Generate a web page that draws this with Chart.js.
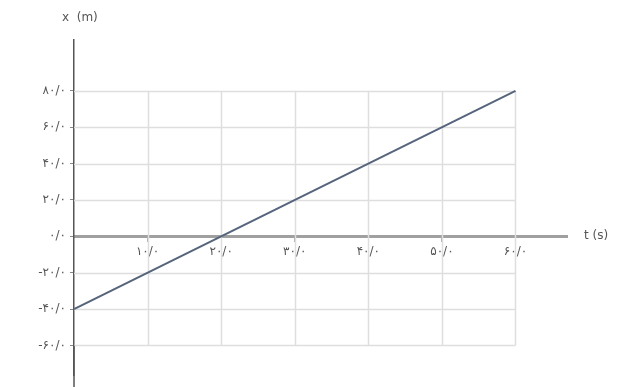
<!DOCTYPE html>
<html>
<head>
<meta charset="utf-8">
<script src="https://cdn.jsdelivr.net/npm/chart.js@4"></script>
<style>
  html, body { margin: 0; padding: 0; background: #fff; }
  #wrap { width: 618px; height: 387px; }
</style>
</head>
<body>
<div id="wrap"><canvas id="chartPos"></canvas></div>
<script>
// line endpoints (t in s, x in m)
const times = [0, 60];
const positions = [-40, 80];

const xTicks = [10, 20, 30, 40, 50, 60];
const yTicks = [80, 60, 40, 20, 0, -20, -40, -60];

const fa = n => {
  const d = '۰۱۲۳۴۵۶۷۸۹';
  const s = Math.abs(n).toString().replace(/\d/g, c => d[c]) + '/۰';
  return n < 0 ? '-' + s : s;
};

const gridBox = {
  id: 'gridBox',
  beforeDatasetsDraw(chart) {
    const { ctx, scales: { x, y } } = chart;
    ctx.save();
    ctx.strokeStyle = '#dedede';
    ctx.lineWidth = 1.5;
    const l = x.getPixelForValue(0), r = x.getPixelForValue(60);
    const t = y.getPixelForValue(80), b = y.getPixelForValue(-60);
    yTicks.forEach(v => {
      if (v === 0) return;
      const py = Math.round(y.getPixelForValue(v)) + 0.5;
      ctx.beginPath(); ctx.moveTo(l, py); ctx.lineTo(r, py); ctx.stroke();
    });
    xTicks.forEach(v => {
      const px = Math.round(x.getPixelForValue(v)) + 0.5;
      ctx.beginPath(); ctx.moveTo(px, t); ctx.lineTo(px, b); ctx.stroke();
    });
    // y axis runs on to the bottom edge
    ctx.strokeStyle = '#555';
    ctx.beginPath(); ctx.moveTo(l, b); ctx.lineTo(l, chart.height); ctx.stroke();
    // axes titles
    ctx.fillStyle = '#555';
    ctx.font = '12px "DejaVu Sans"';
    ctx.textBaseline = 'middle';
    ctx.textAlign = 'left';
    ctx.fillText('x  (m)', x.getPixelForValue(0) - 12, 18);
    ctx.fillText('t (s)', x.getPixelForValue(67) + 17, y.getPixelForValue(0));
    ctx.restore();
  }
};

const ctxPos = document.getElementById('chartPos').getContext('2d');
new Chart(ctxPos, {
  type: 'scatter',
  data: {
    datasets: [{
      data: times.map((t, i) => ({ x: t, y: positions[i] })),
      showLine: true,
      borderColor: '#56647c',
      borderWidth: 2,
      pointRadius: 0
    }]
  },
  options: {
    responsive: true,
    maintainAspectRatio: false,
    animation: false,
    layout: { padding: { top: 40, right: 51, bottom: 0, left: 0 } },
    plugins: { legend: { display: false }, tooltip: { enabled: false } },
    scales: {
      x: {
        type: 'linear',
        min: 0, max: 67,
        position: { y: 0 },
        afterBuildTicks: s => { s.ticks = xTicks.map(v => ({ value: v })); },
        grid: { drawOnChartArea: false, drawTicks: true, tickLength: 4, color: '#aaa' },
        border: { color: '#a0a0a0', width: 3 },
        ticks: {
          callback: v => fa(v),
          color: '#555',
          font: { family: 'DejaVu Sans', size: 12 },
          padding: 4,
          maxRotation: 0
        }
      },
      y: {
        type: 'linear',
        min: -76.7, max: 108,
        afterFit: s => { s.width = 74; },
        afterBuildTicks: s => { s.ticks = yTicks.map(v => ({ value: v })); },
        grid: { drawOnChartArea: false, drawTicks: true, tickLength: 4, color: '#888' },
        border: { color: '#555', width: 1.5 },
        ticks: {
          callback: v => fa(v),
          color: '#555',
          font: { family: 'DejaVu Sans', size: 12 },
          padding: 4
        }
      }
    }
  },
  plugins: [gridBox]
});
</script>
</body>
</html>
